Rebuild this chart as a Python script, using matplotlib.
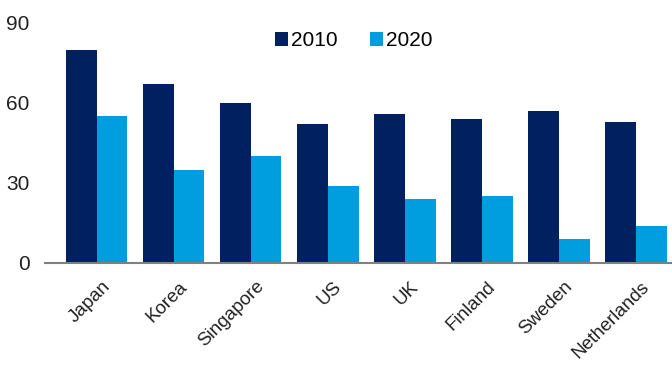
import matplotlib
matplotlib.use("Agg")
import matplotlib.pyplot as plt
import matplotlib.transforms as mtransforms
import numpy as np

categories = ["Japan", "Korea", "Singapore", "US", "UK", "Finland", "Sweden", "Netherlands"]
v2010 = [80, 67, 60, 52, 56, 54, 57, 53]
v2020 = [55, 35, 40, 29, 24, 25, 9, 14]
yticks = [0, 30, 60, 90]

plt.rcParams['font.family'] = ['Liberation Sans', 'DejaVu Sans']

fig = plt.figure(figsize=(6.72, 3.65), dpi=100)
W, H = 672, 365
ax = fig.add_axes([45 / W, 1 - 263 / H, (672 - 45) / W, (263 - 23) / H])

x = np.arange(len(categories))
bw = 0.4
ax.bar(x - bw / 2, v2010, width=bw, color="#002060", label="2010")
ax.bar(x + bw / 2, v2020, width=bw, color="#009EDE", label="2020")

ax.set_xlim(-0.671, 7.471)
ax.set_ylim(0, 90)
ax.set_yticks(yticks)
ax.set_yticklabels([str(t) for t in yticks], fontsize=15, color="#222222")
ax.set_xticks(x)
ax.set_xticklabels([])
ax.tick_params(axis="both", length=0)
ax.tick_params(axis="y", pad=11)

offset = mtransforms.ScaledTranslation(17 / 100, -15 / 100, fig.dpi_scale_trans)
trans = ax.get_xaxis_transform() + offset
for xi, name in zip(x, categories):
    ax.text(xi, 0, name, transform=trans, rotation=45, ha="right", va="top",
            fontsize=13.5, color="#222222", clip_on=False)

for s in ["top", "right", "left"]:
    ax.spines[s].set_visible(False)
ax.spines["bottom"].set_color("#808080")
ax.spines["bottom"].set_linewidth(1.5)

fig.legend(loc="center", bbox_to_anchor=(354 / W, 1 - 41 / H), ncol=2, frameon=False,
           fontsize=15, handlelength=0.63, handleheight=0.63, handletextpad=0.15,
           columnspacing=1.55)

fig.savefig("out.png", dpi=100)
